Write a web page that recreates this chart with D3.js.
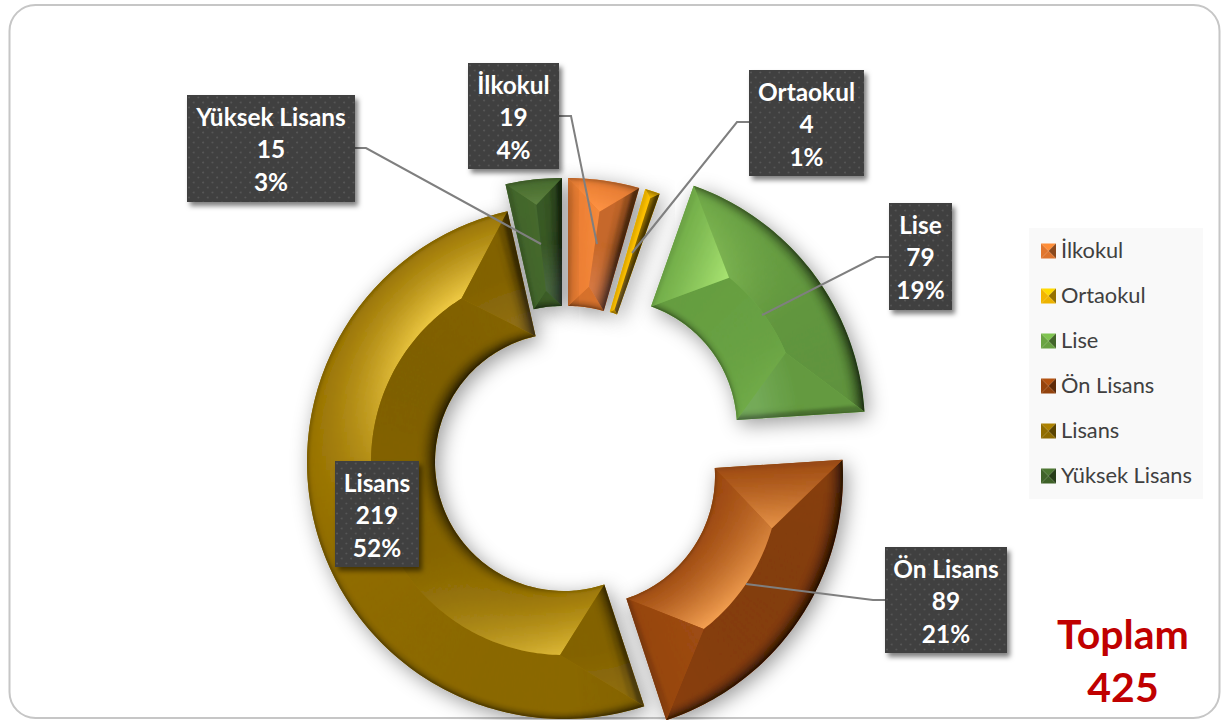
<!DOCTYPE html>
<html lang="tr"><head><meta charset="utf-8">
<script src="https://cdn.jsdelivr.net/npm/d3@7/dist/d3.min.js"></script>
<style>html,body{margin:0;padding:0;background:#fff;overflow:hidden}svg{display:block}text{font-family:Lato,"Noto Sans",sans-serif}</style>
</head><body><svg id="c" width="1223" height="720"></svg>
<script>
const categories = ["İlkokul","Ortaokul","Lise","Ön Lisans","Lisans","Yüksek Lisans"];
const values = [19,4,79,89,219,15];
const percents = ["4%","1%","19%","21%","52%","3%"];
const colours = ["#ED7D31","#FFC000","#70AD47","#9E480E","#997300","#43682B"];
const totalLabel = ["Toplam","425"];

// layout only
const sliceCentres = [[568,435],[574,436],[608,428],[586,476],[564,462],[562,435]];
const labelBoxes = [[468,63,91,106],[749,70,115,106],[889,203,63,107],[885,547,122,106],[335,461,84,106],[187,95,168,107]];
const leaders = [[[559,116],[571,116],[597,244]],[[749,122],[737,122],[632,253]],[[889,257],[876,257],[762,315]],[[885,600],[873,600],[746,584]],null,[[355,148],[366,148],[541,244]]];
const R = 257, r = 129;

const svg = d3.select("#c");
const defs = svg.append("defs");
const f1 = defs.append("filter").attr("id","ds").attr("x","-30%").attr("y","-30%").attr("width","160%").attr("height","160%");
f1.append("feDropShadow").attr("dx",4).attr("dy",5).attr("stdDeviation",10).attr("flood-color","#000").attr("flood-opacity",.4);
const f2 = defs.append("filter").attr("id","ls").attr("x","-20%").attr("y","-20%").attr("width","140%").attr("height","140%");
f2.append("feDropShadow").attr("dx",3).attr("dy",4).attr("stdDeviation",2.5).attr("flood-color","#000").attr("flood-opacity",.5);
const fb = defs.append("filter").attr("id","soft").attr("x","-10%").attr("y","-10%").attr("width","120%").attr("height","120%");
fb.append("feGaussianBlur").attr("stdDeviation",1.6);
const pat = defs.append("pattern").attr("id","dots").attr("patternUnits","userSpaceOnUse").attr("width",9.4).attr("height",10);
pat.append("rect").attr("width",9.4).attr("height",10).attr("fill","#3f3f3f");
pat.append("circle").attr("cx",2).attr("cy",2.5).attr("r",1).attr("fill","#575757");
pat.append("circle").attr("cx",6.7).attr("cy",7.5).attr("r",1).attr("fill","#575757");

svg.append("rect").attr("x",9.5).attr("y",5).attr("width",1210).attr("height",713).attr("rx",26).attr("fill","#fff").attr("stroke","#c6c6c6").attr("stroke-width",2);

const pie = d3.pie().sort(null).value(d=>d)(values);
const arc = d3.arc();
const rm = (R+r)/2, bevel = (R-r)/2, delta = Math.asin(bevel/rm);
const L = [-0.5,-0.866];
const pt = (a,rad)=>d3.pointRadial(a,rad);
const arcPts = (a0,a1,rad)=>{const n=Math.max(2,Math.ceil(Math.abs(a1-a0)/0.02));return d3.range(n+1).map(i=>pt(a0+(a1-a0)*i/n,rad));};

function facets(a0,a1){
  const h=(a1-a0)/2, am=(a0+a1)/2;
  if(h>delta){
    const A=a0+delta,B=a1-delta;
    return {
      outer:[...arcPts(a0,a1,R),...arcPts(B,A,rm)],
      inner:[...arcPts(a0,a1,r),...arcPts(B,A,rm)],
      start:[pt(a0,R),pt(A,rm),pt(a0,r)],
      end:[pt(a1,R),pt(B,rm),pt(a1,r)]
    };
  }
  const s=Math.sin(h), p1=r/(1-s), p2=R/(1+s);
  return {
    outer:[...arcPts(a0,a1,R),pt(am,p2)],
    inner:[...arcPts(a0,a1,r),pt(am,p1)],
    start:[pt(a0,R),pt(am,p2),pt(am,p1),pt(a0,r)],
    end:[pt(a1,R),pt(am,p2),pt(am,p1),pt(a1,r)]
  };
}
function shade(base,n,t,kind,rho){
  const d=n[0]*L[0]+n[1]*L[1];
  const c=d3.rgb(base);
  const px=Math.max(0,n[0]), py=Math.max(0,n[1]);
  let mul=0.97-0.12*px-0.07*py;
  let add=d>0?Math.pow(d,1.5)*(8+84*Math.pow(t,1.25)):0;
  const w=0.08+0.22*px+0.05*py;
  const lo=Math.max(0,1-t/w);
  mul*=1-lo*lo*(0.2+0.5*px+0.28*py);
  let grey=0;
  const gw=Math.max(0,Math.min(1,n[0]+n[1]));
  if(kind==="end") grey=16*gw*Math.max(0,Math.min(1,(rm-rho)/bevel*1.5));
  if(kind==="start") grey=16*gw*Math.max(0,Math.min(1,(rho-rm)/bevel*1.5));
  return d3.rgb(c.r*mul+add+grey,c.g*mul+add+grey,c.b*mul+add*0.75+grey*1.6).formatHex();
}

const slices = svg.append("g").selectAll("g.slice").data(pie).join("g").attr("class","slice")
  .attr("transform",(d,i)=>`translate(${sliceCentres[i]})`);
slices.append("path").attr("filter","url(#ds)").attr("fill",(d,i)=>colours[i])
  .attr("d",d=>arc({innerRadius:r,outerRadius:R,startAngle:d.startAngle,endAngle:d.endAngle}));

slices.each(function(d,i){
  const g=d3.select(this), a0=d.startAngle,a1=d.endAngle, fs=facets(a0,a1), base=colours[i];
  const dTh=1.6*Math.PI/180, dR=4, ext=6, angExt=0.03;
  Object.keys(fs).forEach(kind=>{
    const id=`f${i}${kind}`;
    defs.append("clipPath").attr("id",id).append("polygon").attr("points",fs[kind].map(p=>p.join(",")).join(" "));
    const clip=g.append("g").attr("clip-path",`url(#${id})`);
    const fg=clip.append("g").attr("filter","url(#soft)");
    const A0=a0-angExt,A1=a1+angExt,Rin=r-ext,Rout=R+ext;
    const nt=Math.max(2,Math.ceil((A1-A0)/dTh)), nr=Math.ceil((Rout-Rin)/dR);
    for(let ti=0;ti<nt;ti++){
      const th0=A0+(A1-A0)*ti/nt, th1=A0+(A1-A0)*(ti+1)/nt, th=(th0+th1)/2;
      for(let ri=0;ri<nr;ri++){
        const r0=Rin+(Rout-Rin)*ri/nr, r1=Rin+(Rout-Rin)*(ri+1)/nr, rho=(r0+r1)/2;
        const dOut=R-rho,dIn=rho-r,dS=rho*Math.sin(th-a0),dE=rho*Math.sin(a1-th);
        const ds={outer:dOut,inner:dIn,start:dS,end:dE};
        const mn=Math.min(dOut,dIn,dS,dE);
        if(ds[kind]>mn+42) continue;
        const rad=[Math.sin(th),-Math.cos(th)];
        let n;
        if(kind==="outer")n=rad;
        else if(kind==="inner")n=[-rad[0],-rad[1]];
        else if(kind==="start")n=[-Math.cos(a0),-Math.sin(a0)];
        else n=[Math.cos(a1),Math.sin(a1)];
        const t=Math.max(0,Math.min(1,ds[kind]/bevel));
        const col=shade(base,n,t,kind,rho);
        fg.append("path").attr("d",arc({innerRadius:r0,outerRadius:r1,startAngle:th0,endAngle:th1}))
          .attr("fill",col).attr("stroke",col).attr("stroke-width",.8);
      }
    }
  });
});

// leader lines
const line=d3.line();
svg.append("g").selectAll("path").data(leaders.filter(Boolean)).join("path")
  .attr("d",d=>line(d)).attr("fill","none").attr("stroke","#7f7f7f").attr("stroke-width",2);

// data labels
const labels=svg.append("g").selectAll("g").data(pie).join("g")
  .attr("transform",(d,i)=>`translate(${labelBoxes[i][0]},${labelBoxes[i][1]})`);
labels.append("rect").attr("width",(d,i)=>labelBoxes[i][2]).attr("height",(d,i)=>labelBoxes[i][3])
  .attr("fill","url(#dots)").attr("filter","url(#ls)");
labels.each(function(d,i){
  const g=d3.select(this),w=labelBoxes[i][2];
  [categories[i],String(values[i]),percents[i]].forEach((s,k)=>{
    g.append("text").attr("x",w/2).attr("y",30.5+k*32.5).attr("text-anchor","middle").attr("fill","#fff")
     .attr("font-weight",700).attr("font-size",24.4).text(s);
  });
});

// legend
const lg=svg.append("g");
lg.append("rect").attr("x",1029).attr("y",228).attr("width",174).attr("height",271).attr("fill","#f9f9f9");
const legendY=d3.scalePoint().domain(categories).range([251,476]);
const items=lg.selectAll("g").data(categories).join("g").attr("transform",d=>`translate(1041,${legendY(d)})`);
const S=15;
const sw=[[[0,-7.5],[S,-7.5],[S-7.5,0]],[[0,-7.5],[0,7.5],[S-7.5,0]],[[S,-7.5],[S,7.5],[S-7.5,0]],[[0,7.5],[S,7.5],[S-7.5,0]]];
const swMod=[c=>d3.rgb(c).brighter(.35),c=>d3.rgb(c).darker(.15),c=>d3.rgb(c).darker(1.5),c=>d3.rgb(c).darker(.2)];
items.each(function(d,i){
  const g=d3.select(this);
  sw.forEach((p,k)=>g.append("polygon").attr("points",p.join(" ")).attr("fill",swMod[k](colours[i])));
  g.append("text").attr("x",20).attr("y",7).attr("font-size",21.8).attr("fill","#404040").text(d);
});

// total
svg.append("g").selectAll("text").data(totalLabel).join("text")
  .attr("x",1123).attr("y",(d,i)=>649+i*53).attr("text-anchor","middle")
  .attr("font-weight",700).attr("font-size",41).attr("fill","#C00000").text(d=>d);
</script></body></html>
